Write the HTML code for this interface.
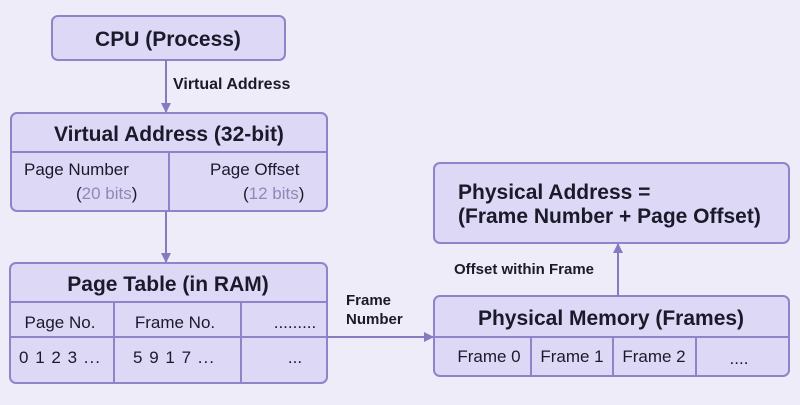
<!DOCTYPE html>
<html><head><style>
body{margin:0;width:800px;height:400px;background:#efecf9;font-family:"Liberation Sans",sans-serif;overflow:hidden}
</style></head><body>
<svg width="800" height="400" xmlns="http://www.w3.org/2000/svg" font-family="Liberation Sans, sans-serif">
<defs><marker id="a" markerWidth="10" markerHeight="10" refX="9" refY="5" orient="auto" markerUnits="userSpaceOnUse"><path d="M0,0 L10,5 L0,10 z" fill="#857cc0"/></marker></defs>
<g fill="#dcd8f6" stroke="#8e85c8" stroke-width="2">
<rect x="52" y="16" width="233" height="44" rx="6"/>
<rect x="11" y="113" width="316" height="98" rx="6"/>
<rect x="10" y="263" width="317" height="120" rx="6"/>
<rect x="434" y="163" width="355" height="80" rx="6"/>
<rect x="434" y="296" width="355" height="80" rx="6"/>
</g>
<g stroke="#8e85c8" stroke-width="2">
<line x1="11" y1="152" x2="327" y2="152"/><line x1="169" y1="152" x2="169" y2="211"/>
<line x1="10" y1="302" x2="327" y2="302"/><line x1="10" y1="337" x2="327" y2="337"/>
<line x1="114" y1="302" x2="114" y2="383"/><line x1="241" y1="302" x2="241" y2="383"/>
<line x1="434" y1="337" x2="789" y2="337"/>
<line x1="531" y1="337" x2="531" y2="376"/><line x1="613" y1="337" x2="613" y2="376"/><line x1="696" y1="337" x2="696" y2="376"/>
</g>
<g stroke="#857cc0" stroke-width="2" marker-end="url(#a)">
<line x1="166" y1="60" x2="166" y2="112"/>
<line x1="166" y1="211" x2="166" y2="262"/>
<line x1="327" y1="337" x2="433" y2="337"/>
<line x1="618" y1="296" x2="618" y2="244"/>
</g>
<g fill="#1a1a2a" font-weight="bold">
<text x="168" y="46" font-size="21" text-anchor="middle">CPU (Process)</text>
<text x="169" y="141" font-size="21" text-anchor="middle">Virtual Address (32-bit)</text>
<text x="168" y="291" font-size="21" text-anchor="middle">Page Table (in RAM)</text>
<text x="611" y="325" font-size="21" text-anchor="middle">Physical Memory (Frames)</text>
<text x="458" y="199" font-size="21">Physical Address =</text>
<text x="458" y="223" font-size="21">(Frame Number + Page Offset)</text>
<text x="173" y="89" font-size="16">Virtual Address</text>
<text x="346" y="305" font-size="15">Frame</text>
<text x="346" y="324" font-size="15">Number</text>
<text x="454" y="274" font-size="15">Offset within Frame</text>
</g>
<g fill="#1a1a2a" font-size="17">
<text x="24" y="175">Page Number</text>
<text x="210" y="175">Page Offset</text>
<text x="76" y="199">(<tspan fill="#8f89b8">20 bits</tspan>)</text>
<text x="243" y="199">(<tspan fill="#8f89b8">12 bits</tspan>)</text>
<text x="60" y="328" text-anchor="middle">Page No.</text>
<text x="175" y="328" text-anchor="middle">Frame No.</text>
<text x="295" y="328" text-anchor="middle">.........</text>
<text x="60" y="363" text-anchor="middle" letter-spacing="1">0 1 2 3 ...</text>
<text x="174" y="363" text-anchor="middle" letter-spacing="1">5 9 1 7 ...</text>
<text x="295" y="363" text-anchor="middle">...</text>
<text x="489" y="362" text-anchor="middle">Frame 0</text>
<text x="572" y="362" text-anchor="middle">Frame 1</text>
<text x="654" y="362" text-anchor="middle">Frame 2</text>
<text x="739" y="364" text-anchor="middle">....</text>
</g>
</svg>
</body></html>
